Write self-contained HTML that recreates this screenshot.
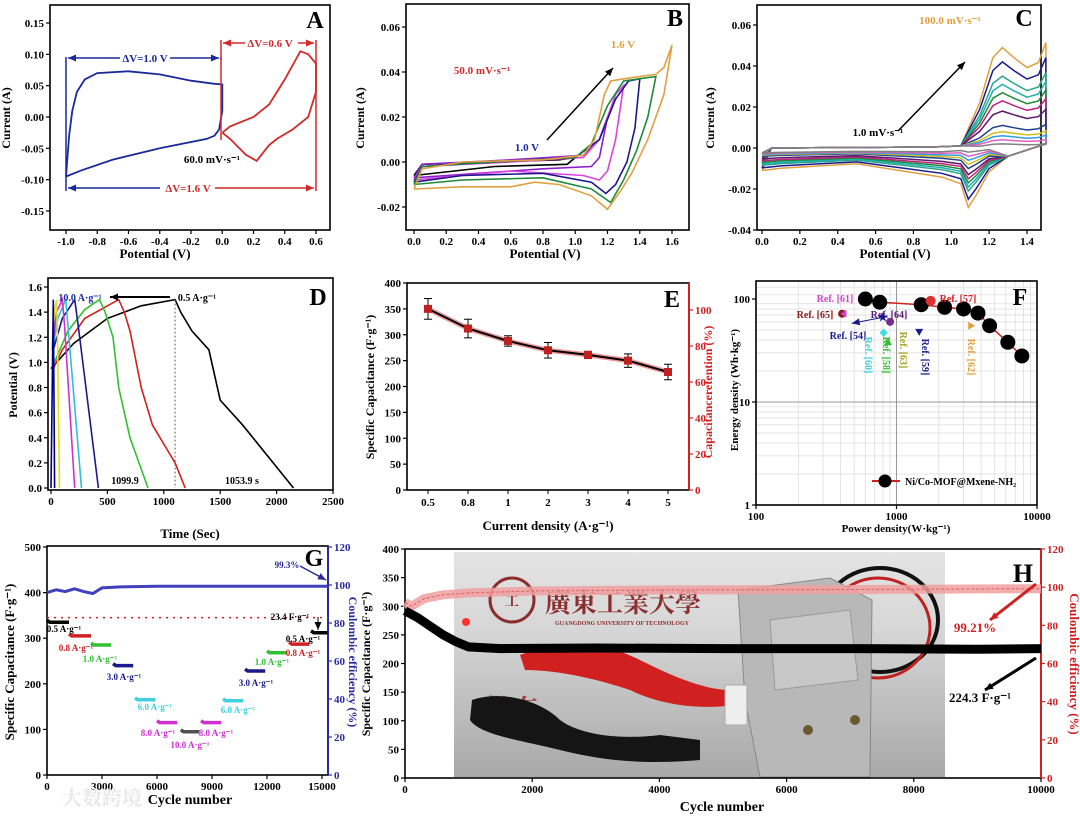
<!DOCTYPE html>
<html><head><meta charset="utf-8"><style>
html,body{margin:0;padding:0;background:#fff;}
svg{display:block;font-family:"Liberation Serif","Noto Serif CJK SC",serif;font-weight:bold;}
</style></head><body>
<svg id="fig" width="1080" height="818" viewBox="0 0 1080 818" xmlns="http://www.w3.org/2000/svg"></svg>
<script>
// ---------- DATA ----------
// Panel A
const aBlue=[[-1.0,-0.095],[-0.98,-0.03],[-0.96,0.01],[-0.93,0.04],[-0.88,0.06],[-0.8,0.07],[-0.6,0.073],[-0.4,0.068],[-0.2,0.058],[-0.05,0.053],[0,0.052],[0,0.01],[-0.02,-0.02],[-0.05,-0.03],[-0.1,-0.035],[-0.4,-0.05],[-0.7,-0.068],[-0.9,-0.085],[-1.0,-0.095]];
const aRed=[[0,-0.025],[0.05,-0.015],[0.2,0.0],[0.3,0.02],[0.4,0.06],[0.5,0.105],[0.55,0.1],[0.6,0.085],[0.6,0.04],[0.55,0.0],[0.45,-0.02],[0.35,-0.035],[0.3,-0.045],[0.22,-0.07],[0.15,-0.06],[0.05,-0.035],[0,-0.025]];
const aTicksX=[-1.0,-0.8,-0.6,-0.4,-0.2,0.0,0.2,0.4,0.6];
const aTicksY=[0.15,0.10,0.05,0.00,-0.05,-0.10,-0.15];
// Panel B
const bColors=["#000000","#8a1fd0","#e040e0","#1a1a8c","#1f8a3a","#e0a040"];
const bCurves=[
 [[0,-0.006],[0.05,-0.001],[0.9,0.001],[1.0,0.002],[0.95,-0.001],[0.5,-0.002],[0,-0.006]],
 [[0,-0.007],[0.05,-0.001],[0.6,0.001],[1.05,0.003],[1.15,0.01],[1.2,0.02],[1.15,0.002],[1.1,-0.002],[0.8,-0.003],[0,-0.007]],
 [[0,-0.008],[0.05,-0.002],[0.6,0.0],[1.05,0.002],[1.15,0.01],[1.25,0.03],[1.3,0.034],[1.25,0.01],[1.2,-0.004],[1.15,-0.008],[1.05,-0.006],[0.6,-0.004],[0,-0.008]],
 [[0,-0.009],[0.05,-0.002],[0.5,0],[1.0,0.002],[1.15,0.01],[1.25,0.028],[1.33,0.036],[1.4,0.037],[1.37,0.015],[1.32,0.0],[1.25,-0.01],[1.19,-0.014],[1.1,-0.009],[0.8,-0.005],[0.3,-0.006],[0,-0.009]],
 [[0,-0.01],[0.05,-0.002],[0.5,0],[1.0,0.002],[1.1,0.008],[1.2,0.025],[1.3,0.036],[1.5,0.038],[1.45,0.02],[1.38,0.005],[1.3,-0.008],[1.22,-0.018],[1.1,-0.012],[0.8,-0.007],[0.3,-0.008],[0,-0.01]],
 [[0,-0.012],[0.05,-0.003],[0.3,0.0],[0.8,0.001],[1.05,0.003],[1.12,0.01],[1.18,0.03],[1.22,0.036],[1.3,0.037],[1.5,0.039],[1.55,0.042],[1.6,0.052],[1.55,0.03],[1.45,0.01],[1.35,-0.005],[1.28,-0.013],[1.2,-0.021],[1.1,-0.015],[0.9,-0.01],[0.75,-0.009],[0.6,-0.011],[0.3,-0.011],[0,-0.012]]];
const bTicksX=[0.0,0.2,0.4,0.6,0.8,1.0,1.2,1.4,1.6];
const bTicksY=[0.06,0.04,0.02,0.00,-0.02];
// Panel C
const cPeaks=[0.049,0.042,0.035,0.031,0.027,0.023,0.018,0.011,0.008,0.006,0.004,0.002];
const cCathodic=[-0.029,-0.025,-0.021,-0.019,-0.017,-0.015,-0.013,-0.01,-0.008,-0.006,-0.004,-0.002];
const cColors=["#e0a040","#1a1a8c","#2aa58a","#20b0b0","#1f8a3a","#c02080","#5a1a6a","#204090","#d0c020","#30a0e0","#e060c0","#808080"];
const cTicksX=[0.0,0.2,0.4,0.6,0.8,1.0,1.2,1.4];
const cTicksY=[0.06,0.04,0.02,0.00,-0.02,-0.04];
// Panel D
const dColors=["#000000","#d02020","#30c030","#1a1a8c","#30c0d0","#d030d0","#e0e020","#000080"];
const dCurves=[
 [[0,0.95],[50,1.0],[200,1.15],[500,1.35],[800,1.45],[1100,1.5],[1150,1.4],[1250,1.25],[1400,1.1],[1500,0.7],[1700,0.5],[2150,0]],
 [[20,0.95],[100,1.1],[300,1.35],[600,1.5],[650,1.4],[700,1.25],[800,0.8],[900,0.5],[1100,0.2],[1190,0]],
 [[30,1.0],[150,1.25],[300,1.42],[430,1.5],[480,1.4],[550,1.2],[600,0.8],[700,0.4],[860,0]],
 [[20,1.1],[100,1.35],[210,1.5],[240,1.3],[420,0]],
 [[15,1.1],[60,1.35],[130,1.5],[150,1.3],[270,0]],
 [[10,1.1],[50,1.4],[100,1.5],[120,1.3],[210,0]],
 [[5,1.1],[30,1.4],[50,1.5],[58,1.2],[75,0]],
 [[0,0],[20,1.5],[32,0]]];
const dTicksX=[0,500,1000,1500,2000,2500];
const dTicksY=[0.0,0.2,0.4,0.6,0.8,1.0,1.2,1.4,1.6];
// Panel E
const eCats=["0.5","0.8","1","2","3","4","5"];
const eCap=[350,312,288,270,261,250,228];
const eErr=[20,18,10,15,7,13,15];
const eTicksY=[0,50,100,150,200,250,300,350,400];
const eTicksR=[0,20,40,60,80,100];
// Panel F
const fPower=[600,760,1500,2200,3000,3800,4600,6200,7800];
const fEnergy=[100,93,88,83,80,73,55,38,28];
const fTicksX=[100,1000,10000];
const fTicksY=[1,10,100];
// Panel G
const gRates=["0.5","0.8","1.0","3.0","6.0","8.0","10.0","8.0","6.0","3.0","1.0","0.8","0.5"];
const gStart=[0,1200,2400,3600,4800,6000,7300,8400,9600,10800,12000,13200,14400];
const gEnd=[1200,2400,3500,4700,5900,7100,8300,9500,10700,11900,13100,14300,15300];
const gCap=[335,305,285,240,165,115,95,115,163,228,268,287,312];
const gColors=["#000000","#d02020","#30c030","#1a1a8c","#40d0e0","#d030d0","#505050","#d030d0","#40d0e0","#1a1a8c","#30c030","#d02020","#000000"];
const gCE=[[0,96],[500,97.5],[1000,96.5],[1500,98],[2000,96.5],[2500,95.5],[3000,98.5],[4000,99],[6000,99.3],[9000,99.3],[12000,99.3],[15300,99.3]];
const gTicksX=[0,3000,6000,9000,12000,15000];
const gTicksY=[0,100,200,300,400,500];
const gTicksR=[0,20,40,60,80,100,120];
// Panel H
const hCap=[[0,292],[200,280],[400,265],[600,250],[800,238],[1000,229],[1500,226],[3000,227],[5000,226],[7000,226],[9000,225],[10000,226]];
const hCE=[[0,92],[100,90],[300,94],[600,96],[1000,97],[2000,98],[4000,98.5],[7000,98.8],[10000,99.2]];
const hTicksX=[0,2000,4000,6000,8000,10000];
const hTicksY=[0,50,100,150,200,250,300,350,400];
const hTicksR=[0,20,40,60,80,100,120];

// ---------- HELPERS ----------
const NS="http://www.w3.org/2000/svg";
const svg=document.getElementById('fig');
function mk(tag,attrs,name,parent){
  const el=document.createElementNS(NS,tag);
  for(const k in attrs) el.setAttribute(k,attrs[k]);
  
  
  (parent||svg).appendChild(el);
  return el;
}
function txt(x,y,s,name,opt){
  opt=opt||{};
  const el=mk('text',{x:x,y:y,'font-size':opt.size||11,fill:opt.fill||'#000','text-anchor':opt.anchor||'middle'},name);
  if(opt.rot) el.setAttribute('transform','rotate('+opt.rot+' '+x+' '+y+')');
  el.textContent=s;
  return el;
}
function lin(d0,d1,r0,r1){return v=>r0+(v-d0)*(r1-r0)/(d1-d0);}
function logs(d0,d1,r0,r1){return v=>r0+(Math.log10(v)-Math.log10(d0))*(r1-r0)/(Math.log10(d1)-Math.log10(d0));}
function pathOf(pts,sx,sy){return pts.map((p,i)=>(i?'L':'M')+sx(p[0]).toFixed(1)+' '+sy(p[1]).toFixed(1)).join(' ');}
function frame(x0,x1,y0,y1,name){mk('rect',{x:x0,y:y0,width:x1-x0,height:y1-y0,fill:'none',stroke:'#000','stroke-width':1.6},name);}
function xTicks(ticks,sx,yb,fmt,name,color){
  ticks.forEach(t=>{
    mk('line',{x1:sx(t),x2:sx(t),y1:yb,y2:yb+4,stroke:color||'#000','stroke-width':1.2},name+'-tick');
    txt(sx(t),yb+15,fmt(t),name+'-label',{size:11,fill:color||'#000'});
  });
}
function yTicks(ticks,sy,xl,fmt,name,color,right){
  ticks.forEach(t=>{
    mk('line',{x1:xl,x2:right?xl+4:xl-4,y1:sy(t),y2:sy(t),stroke:color||'#000','stroke-width':1.2},name+'-tick');
    txt(right?xl+6:xl-6,sy(t)+4,fmt(t),name+'-label',{size:11,fill:color||'#000',anchor:right?'start':'end'});
  });
}
function arrow(x1,y1,x2,y2,color,name,w){
  mk('line',{x1:x1,y1:y1,x2:x2,y2:y2,stroke:color,'stroke-width':w||1.5},name);
  const a=Math.atan2(y2-y1,x2-x1),L=8,W=3.5;
  const p=[[x2,y2],[x2-L*Math.cos(a)+W*Math.sin(a),y2-L*Math.sin(a)-W*Math.cos(a)],[x2-L*Math.cos(a)-W*Math.sin(a),y2-L*Math.sin(a)+W*Math.cos(a)]];
  mk('polygon',{points:p.map(q=>q.join(',')).join(' '),fill:color},name+'-head');
}

// ---------- PANEL A ----------
(function(){
 const sx=lin(-1.0,0.6,66,316), sy=lin(0.15,-0.15,23,211);
 frame(50,330,5,230,'panel-a-frame');
 xTicks(aTicksX,sx,230,v=>v.toFixed(1),'panel-a-x');
 yTicks(aTicksY,sy,50,v=>v.toFixed(2),'panel-a-y');
 mk('path',{d:pathOf(aBlue,sx,sy),fill:'none',stroke:'#1a2a9a','stroke-width':1.8},'panel-a-blue-cv');
 mk('path',{d:pathOf(aRed,sx,sy),fill:'none',stroke:'#d02a2a','stroke-width':1.8},'panel-a-red-cv');
 mk('line',{x1:66,y1:57,x2:66,y2:191,stroke:'#1a2a9a','stroke-width':1.5},'panel-a-blue-bracket');
 mk('line',{x1:221,y1:57,x2:221,y2:60,stroke:'#1a2a9a','stroke-width':1.5},'panel-a-blue-bracket-r');
 arrow(120,58,68,58,'#1a2a9a','panel-a-arrow-l');arrow(170,58,219,58,'#1a2a9a','panel-a-arrow-r');
 txt(145,62,'ΔV=1.0 V','panel-a-dv1',{fill:'#1a2a9a',size:11});
 mk('line',{x1:221,y1:40,x2:221,y2:140,stroke:'#d02a2a','stroke-width':1.5},'panel-a-red-bracket-l');
 mk('line',{x1:316,y1:40,x2:316,y2:191,stroke:'#d02a2a','stroke-width':1.5},'panel-a-red-bracket-r');
 arrow(245,43,223,43,'#d02a2a','panel-a-arrow-rl');arrow(298,43,314,43,'#d02a2a','panel-a-arrow-rr');
 txt(270,47,'ΔV=0.6 V','panel-a-dv06',{fill:'#d02a2a',size:11});
 arrow(160,188,68,188,'#1a2a9a','panel-a-arrow-bl');arrow(215,188,314,188,'#d02a2a','panel-a-arrow-br');
 txt(188,192,'ΔV=1.6 V','panel-a-dv16',{fill:'#d02a2a',size:11});
 txt(212,163,'60.0 mV·s⁻¹','panel-a-rate',{size:11});
 txt(315,28,'A','panel-a-letter',{size:24});
 txt(155,258,'Potential (V)','panel-a-x-title',{size:13});
 txt(10,118,'Current (A)','panel-a-y-title',{size:12,rot:-90});
})();

// ---------- PANEL B ----------
(function(){
 const sx=lin(0,1.6,414,672), sy=lin(0.06,-0.02,27,207);
 frame(406,689,4,230,'panel-b-frame');
 xTicks(bTicksX,sx,230,v=>v.toFixed(1),'panel-b-x');
 yTicks(bTicksY,sy,406,v=>v.toFixed(2),'panel-b-y');
 bCurves.forEach((c,i)=>{mk('path',{d:pathOf(c,sx,sy),fill:'none',stroke:bColors[i],'stroke-width':1.6},'panel-b-cv-'+i);});
 arrow(547,140,613,68,'#000','panel-b-arrow');
 txt(527,151,'1.0 V','panel-b-1v',{fill:'#1a2a9a',size:11});
 txt(623,48,'1.6 V','panel-b-16v',{fill:'#e0a040',size:11});
 txt(482,74,'50.0 mV·s⁻¹','panel-b-rate',{fill:'#d02a2a',size:11});
 txt(675,26,'B','panel-b-letter',{size:24});
 txt(545,258,'Potential (V)','panel-b-x-title',{size:13});
 txt(364,118,'Current (A)','panel-b-y-title',{size:12,rot:-90});
})();

// ---------- PANEL C ----------
(function(){
 const sx=lin(0,1.4,762,1027), sy=lin(0.06,-0.04,25,230);
 frame(757,1041,5,230,'panel-c-frame');
 xTicks(cTicksX,sx,230,v=>v.toFixed(1),'panel-c-x');
 yTicks(cTicksY,sy,757,v=>v.toFixed(2),'panel-c-y');
 cPeaks.forEach((pk,i)=>{
  const cat=cCathodic[i], base=-0.002-0.009*pk/0.049;
  const pts=[[0,base],[0.05,0],[0.9,0.0005],[1.05,0.001],[1.15,pk*0.45],[1.22,pk*0.9],[1.27,pk],[1.33,pk*0.9],[1.4,pk*0.8],[1.46,pk*0.85],[1.5,pk*1.05],[1.5,0.002],[1.4,-0.001],[1.3,-0.004],[1.2,cat*0.4],[1.13,cat*0.8],[1.09,cat],[1.05,cat*0.6],[0.95,cat*0.3+base*0.5],[0.5,base*0.7],[0.1,base*0.9],[0,base]];
  mk('path',{d:pathOf(pts,sx,sy),fill:'none',stroke:cColors[i],'stroke-width':1.5},'panel-c-cv-'+i);
 });
 arrow(898,131,965,62,'#000','panel-c-arrow');
 txt(878,136,'1.0 mV·s⁻¹','panel-c-rate-low',{size:11});
 txt(950,24,'100.0 mV·s⁻¹','panel-c-rate-high',{fill:'#e0a040',size:11});
 txt(1024,26,'C','panel-c-letter',{size:24});
 txt(895,258,'Potential (V)','panel-c-x-title',{size:13});
 txt(714,118,'Current (A)','panel-c-y-title',{size:12,rot:-90});
})();

// ---------- PANEL D ----------
(function(){
 const sx=lin(0,2500,51,333), sy=lin(1.6,0,287,488);
 frame(48,333,278,490,'panel-d-frame');
 xTicks(dTicksX,sx,490,v=>String(v),'panel-d-x');
 yTicks(dTicksY,sy,48,v=>v.toFixed(1),'panel-d-y');
 dCurves.forEach((c,i)=>{mk('path',{d:pathOf(c,sx,sy),fill:'none',stroke:dColors[i],'stroke-width':1.6},'panel-d-gcd-'+i);});
 mk('line',{x1:sx(1100),x2:sx(1100),y1:sy(1.5),y2:488,stroke:'#666','stroke-width':1,'stroke-dasharray':'2,2'},'panel-d-dashed');
 arrow(170,297,110,297,'#000','panel-d-arrow',2);
 txt(80,301,'10.0 A·g⁻¹','panel-d-rate-high',{fill:'#1a2a9a',size:10});
 txt(197,301,'0.5 A·g⁻¹','panel-d-rate-low',{size:10});
 txt(125,484,'1099.9','panel-d-1099',{size:10});
 txt(242,484,'1053.9 s','panel-d-1053',{size:10});
 txt(318,305,'D','panel-d-letter',{size:24});
 txt(190,538,'Time (Sec)','panel-d-x-title',{size:13});
 txt(17,385,'Potential (V)','panel-d-y-title',{size:12,rot:-90});
})();

// ---------- PANEL E ----------
(function(){
 const sx=i=>428+40*i, sy=lin(0,400,490,283), sr=lin(0,100,490,310);
 frame(407,689,283,490,'panel-e-frame');
 mk('line',{x1:689,x2:689,y1:283,y2:490,stroke:'#d02020','stroke-width':2},'panel-e-right-axis');
 eCats.forEach((c,i)=>{
  mk('line',{x1:sx(i),x2:sx(i),y1:490,y2:494,stroke:'#000'},'panel-e-x-tick');
  txt(sx(i),506,c,'panel-e-x-label',{size:11});
 });
 yTicks(eTicksY,sy,407,v=>String(v),'panel-e-y');
 yTicks(eTicksR,sr,689,v=>String(v),'panel-e-r','#d02020',true);
 const pts=eCap.map((v,i)=>[i,v]);
 mk('path',{d:pathOf(pts,sx,sy),fill:'none',stroke:'#e05050','stroke-width':5,opacity:0.6},'panel-e-line-glow');
 mk('path',{d:pathOf(pts,sx,sy),fill:'none',stroke:'#000','stroke-width':2},'panel-e-line');
 eCap.forEach((v,i)=>{
  mk('line',{x1:sx(i),x2:sx(i),y1:sy(v+eErr[i]),y2:sy(v-eErr[i]),stroke:'#000','stroke-width':1},'panel-e-errbar');
  mk('line',{x1:sx(i)-4,x2:sx(i)+4,y1:sy(v+eErr[i]),y2:sy(v+eErr[i]),stroke:'#000'},'panel-e-errcap');
  mk('line',{x1:sx(i)-4,x2:sx(i)+4,y1:sy(v-eErr[i]),y2:sy(v-eErr[i]),stroke:'#000'},'panel-e-errcap');
  mk('rect',{x:sx(i)-4,y:sy(v)-4,width:8,height:8,fill:'#c02020'},'panel-e-point');
 });
 txt(672,307,'E','panel-e-letter',{size:24});
 txt(548,530,'Current density (A·g⁻¹)','panel-e-x-title',{size:13});
 txt(374,387,'Specific Capacitance (F·g⁻¹)','panel-e-y-title',{size:12,rot:-90});
 txt(712,392,'Capacitanceretention (%)','panel-e-r-title',{size:12,rot:-90,fill:'#d02020'});
})();

// ---------- PANEL F ----------
(function(){
 const sx=logs(100,10000,756,1037), sy=logs(1,100,505,299);
 [200,300,400,500,600,700,800,900,2000,3000,4000,5000,6000,7000,8000,9000].forEach(v=>mk('line',{x1:sx(v),x2:sx(v),y1:281,y2:505,stroke:'#ddd','stroke-width':0.8},'panel-f-grid-x'));
 [2,3,4,5,6,7,8,9,20,30,40,50,60,70,80,90,110,130].forEach(v=>{if(sy(v)>281)mk('line',{x1:756,x2:1037,y1:sy(v),y2:sy(v),stroke:'#ddd','stroke-width':0.8},'panel-f-grid-y');});
 mk('line',{x1:sx(1000),x2:sx(1000),y1:281,y2:505,stroke:'#999'},'panel-f-grid-major');
 mk('line',{x1:756,x2:1037,y1:sy(10),y2:sy(10),stroke:'#999'},'panel-f-grid-major');
 frame(756,1037,281,505,'panel-f-frame');
 xTicks(fTicksX,sx,505,v=>String(v),'panel-f-x');
 yTicks(fTicksY,sy,756,v=>String(v),'panel-f-y');
 const pts=fPower.map((p,i)=>[p,fEnergy[i]]);
 mk('path',{d:pathOf(pts,sx,sy),fill:'none',stroke:'#d02020','stroke-width':1.5},'panel-f-line');
 pts.forEach(p=>mk('circle',{cx:sx(p[0]),cy:sy(p[1]),r:7.5,fill:'#000'},'panel-f-point'));
 mk('circle',{cx:sx(1750),cy:sy(96),r:5,fill:'#e03030'},'ref-57-marker');
 txt(958,302,'Ref. [57]','ref-57-label',{fill:'#d02020',size:10});
 txt(835,302,'Ref. [61]','ref-61-label',{fill:'#d040d0',size:10});
 mk('circle',{cx:sx(410),cy:sy(72),r:4,fill:'#8b1a1a'},'ref-65-marker');
 mk('polygon',{points:`${sx(440)},${sy(72)-4} ${sx(440)},${sy(72)+4} ${sx(440)-6},${sy(72)}`,fill:'#d040d0'},'ref-61-marker');
 txt(815,318,'Ref. [65]','ref-65-label',{fill:'#8b1a1a',size:10});
 txt(889,318,'Ref. [64]','ref-64-label',{fill:'#5a1a7a',size:10});
 mk('circle',{cx:sx(900),cy:sy(60),r:4,fill:'#7a2a8a'},'ref-64-marker');
 txt(sx(800),sy(68)+4,'★','ref-54-marker',{fill:'#1a1a8c',size:11});
 arrow(sx(780),sy(66),sx(480),sy(58),'#1a1a8c','ref-54-arrow',1);
 txt(848,339,'Ref. [54]','ref-54-label',{fill:'#1a1a8c',size:10});
 mk('rect',{x:sx(810)-3,y:sy(47)-3,width:6,height:6,fill:'#40e0e0',transform:`rotate(45 ${sx(810)} ${sy(47)})`},'ref-60-marker');
 mk('polygon',{points:`${sx(870)-4},${sy(38)+3} ${sx(870)+4},${sy(38)+3} ${sx(870)},${sy(38)-4}`,fill:'#30c030'},'ref-58-marker');
 mk('polygon',{points:`${sx(1450)-4},${sy(48)-3} ${sx(1450)+4},${sy(48)-3} ${sx(1450)},${sy(48)+4}`,fill:'#1a1a8c'},'ref-59-marker');
 mk('polygon',{points:`${sx(3400)-3},${sy(55)-4} ${sx(3400)-3},${sy(55)+4} ${sx(3400)+4},${sy(55)}`,fill:'#e0a040'},'ref-62-marker');
 txt(865,355,'Ref. [60]','ref-60-label',{fill:'#40d0e0',size:10,rot:90});
 txt(883,355,'Ref. [58]','ref-58-label',{fill:'#30c030',size:10,rot:90});
 txt(900,350,'Ref. [63]','ref-63-label',{fill:'#a0a020',size:10,rot:90});
 txt(922,357,'Ref. [59]','ref-59-label',{fill:'#1a1a8c',size:10,rot:90});
 txt(968,357,'Ref. [62]','ref-62-label',{fill:'#e0a040',size:10,rot:90});
 mk('line',{x1:872,x2:900,y1:481,y2:481,stroke:'#d02020','stroke-width':2},'legend-line');
 mk('circle',{cx:885,cy:481,r:6.5,fill:'#000'},'legend-marker');
 txt(905,485,'Ni/Co-MOF@Mxene-NH₂','legend-label',{size:10,anchor:'start'});
 txt(1020,305,'F','panel-f-letter',{size:24});
 txt(896,532,'Power density(W·kg⁻¹)','panel-f-x-title',{size:11});
 txt(738,390,'Energy density (Wh·kg⁻¹)','panel-f-y-title',{size:11,rot:-90});
})();

// ---------- PANEL G ----------
(function(){
 const sx=lin(0,15000,47,322), sy=lin(0,500,775,547), sr=lin(0,120,775,547);
 frame(47,328,546,775,'panel-g-frame');
 mk('line',{x1:328,x2:328,y1:546,y2:775,stroke:'#2a2aa0','stroke-width':2},'panel-g-right-axis');
 xTicks(gTicksX,sx,775,v=>String(v),'panel-g-x');
 yTicks(gTicksY,sy,47,v=>String(v),'panel-g-y');
 yTicks(gTicksR,sr,328,v=>String(v),'panel-g-r','#2a2aa0',true);
 mk('line',{x1:47,x2:328,y1:sy(345),y2:sy(345),stroke:'#d02020','stroke-width':1.5,'stroke-dasharray':'2,5'},'panel-g-reference-line');
 mk('path',{d:pathOf(gCE,sx,sr),fill:'none',stroke:'#4040c0','stroke-width':3},'panel-g-ce-line');
 gCap.forEach((v,i)=>{
  mk('path',{d:pathOf([[gStart[i],v+4],[gStart[i]+150,v],[gEnd[i],v]],sx,sy),fill:'none',stroke:gColors[i],'stroke-width':3.5},'panel-g-segment-'+i);
 });
 const lab=[[64,632,0],[76,651,1],[100,662,2],[124,680,3],[155,710,4],[158,736,5],[190,748,6],[216,736,7],[238,713,8],[256,686,9],[272,665,10],[303,656,11],[303,642,12]];
 lab.forEach(l=>{const i=l[2];txt(l[0],l[1],gRates[i]+' A·g⁻¹','panel-g-rate-label-'+i,{fill:gColors[i]==='#505050'?'#d030d0':gColors[i],size:9});});
 txt(290,620,'23.4 F·g⁻¹','panel-g-delta-label',{size:9});
 arrow(318,617,318,630,'#000','panel-g-delta-arrow',1);
 txt(287,568,'99.3%','panel-g-ce-label',{fill:'#2a2aa0',size:9});
 arrow(300,566,326,580,'#2a2aa0','panel-g-ce-arrow',1.5);
 txt(314,566,'G','panel-g-letter',{size:24});
 txt(190,804,'Cycle number','panel-g-x-title',{size:14});
 txt(14,662,'Specific Capacitance (F·g⁻¹)','panel-g-y-title',{size:13,rot:-90});
 txt(349,662,'Coulombic efficiency (%)','panel-g-r-title',{size:12,rot:90,fill:'#2a2aa0'});
 txt(62,805,'大数跨境','watermark',{size:20,fill:'#e8e8e8',anchor:'start'});
})();

// ---------- PANEL H ----------
(function(){
 const sx=lin(0,10000,405,1041), sy=lin(0,400,778,549), sr=lin(0,120,778,549);
 const defs=mk('defs',{},'panel-h-defs');
 const lg=mk('linearGradient',{id:'ph',x1:0,y1:0,x2:0,y2:1},'photo-gradient',defs);
 mk('stop',{offset:'0','stop-color':'#e4e4e4'},'grad-stop',lg);
 mk('stop',{offset:'0.35','stop-color':'#d6d6d6'},'grad-stop',lg);
 mk('stop',{offset:'1','stop-color':'#a8a8a8'},'grad-stop',lg);
 mk('rect',{x:454,y:552,width:491,height:225,fill:'url(#ph)'},'device-photo');
 mk('circle',{cx:512,cy:600,r:22,fill:'none',stroke:'#8b2d2d','stroke-width':3},'university-logo');
 txt(512,606,'工','logo-glyph',{size:14,fill:'#8b2d2d'});
 txt(545,612,'廣東工業大學','university-name-cn',{size:26,fill:'#8b3030',anchor:'start'});
 txt(555,625,'GUANGDONG UNIVERSITY OF TECHNOLOGY','university-name-en',{size:6,fill:'#8b3030',anchor:'start'});
 txt(512,718,'勤奋','motto-text',{size:26,fill:'#a04040'});
 txt(780,718,'创','motto-text-2',{size:26,fill:'#a04040'});
 mk('ellipse',{cx:880,cy:620,rx:58,ry:52,fill:'none',stroke:'#111','stroke-width':4},'black-wire-loop');
 mk('ellipse',{cx:878,cy:628,rx:52,ry:50,fill:'none',stroke:'#c02020','stroke-width':3},'red-wire-loop');
 mk('path',{d:'M738 590 L830 578 L872 600 L870 777 L760 777 L745 700 Z',fill:'#b8b8b8',stroke:'#888'},'battery-holder');
 mk('path',{d:'M770 620 L850 610 L858 680 L775 690 Z',fill:'#c8c8c8',stroke:'#999'},'battery-holder-clip');
 mk('circle',{cx:808,cy:730,r:5,fill:'#6a5a30'},'screw-1');mk('circle',{cx:855,cy:720,r:5,fill:'#6a5a30'},'screw-2');
 mk('path',{d:'M472 700 C500 690 540 700 560 720 C580 735 620 740 660 735 L700 740 L700 760 C640 765 600 760 560 750 C520 740 480 735 470 720 Z',fill:'#151515'},'black-clip');
 mk('path',{d:'M520 655 C560 640 600 640 640 660 C660 670 700 690 730 690 L735 705 C700 710 660 705 630 690 C600 680 560 670 525 670 Z',fill:'#d02020'},'red-clip');
 mk('rect',{x:725,y:685,width:22,height:40,fill:'#eee',stroke:'#aaa'},'connector');
 mk('circle',{cx:466,cy:622,r:4,fill:'#ff3030'},'red-led');
 frame(405,1041,549,778,'panel-h-frame');
 mk('line',{x1:1041,x2:1041,y1:549,y2:778,stroke:'#d02020','stroke-width':2},'panel-h-right-axis');
 xTicks(hTicksX,sx,778,v=>String(v),'panel-h-x');
 yTicks(hTicksY,sy,405,v=>String(v),'panel-h-y');
 yTicks(hTicksR,sr,1041,v=>String(v),'panel-h-r','#d02020',true);
 mk('path',{d:pathOf(hCE,sx,sr),fill:'none',stroke:'#f0a0a0','stroke-width':9,opacity:0.85},'panel-h-ce-line');
 mk('path',{d:pathOf(hCE,sx,sr),fill:'none',stroke:'#e06060','stroke-width':1,'stroke-dasharray':'3,2'},'panel-h-ce-line-texture');
 mk('path',{d:pathOf(hCap,sx,sy),fill:'none',stroke:'#000','stroke-width':9},'panel-h-capacitance-line');
 arrow(1036,584,990,620,'#d02020','panel-h-ce-arrow',3);
 txt(975,632,'99.21%','panel-h-ce-label',{fill:'#d02020',size:13});
 arrow(1036,658,985,690,'#000','panel-h-cap-arrow',3);
 txt(980,702,'224.3 F·g⁻¹','panel-h-cap-label',{size:13});
 txt(1023,582,'H','panel-h-letter',{size:26});
 txt(722,811,'Cycle number','panel-h-x-title',{size:14});
 txt(370,664,'Specific Capacitance (F·g⁻¹)','panel-h-y-title',{size:12,rot:-90});
 txt(1070,664,'Coulombic efficiency (%)','panel-h-r-title',{size:13,rot:90,fill:'#d02020'});
})();
</script>
</body></html>
